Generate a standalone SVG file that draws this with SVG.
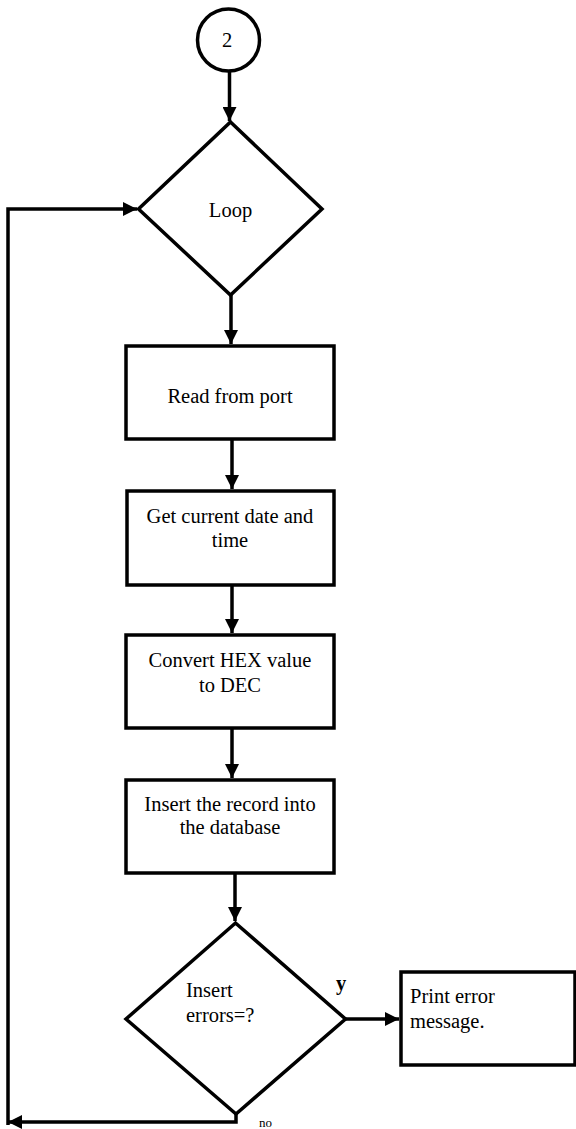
<svg xmlns="http://www.w3.org/2000/svg" width="576" height="1129" viewBox="0 0 576 1129">
<style>
.shape{fill:#fff;stroke:#000;stroke-width:3.5}
.conn{fill:none;stroke:#000;stroke-width:3.5}
text{font-family:"Liberation Serif","Times New Roman",serif;font-size:20.5px;fill:#000}
.c{text-anchor:middle}
</style>
<defs>
<marker id="ah" viewBox="0 0 10 10" refX="10" refY="5" markerWidth="15" markerHeight="14" markerUnits="userSpaceOnUse" orient="auto">
<path d="M0,0 L10,5 L0,10 z" fill="#000"/>
</marker>
</defs>
<rect width="576" height="1129" fill="#fff"/>
<g id="connectors">
<path class="conn" d="M229.5,71 V121" marker-end="url(#ah)"/>
<path class="conn" d="M231,295 V344" marker-end="url(#ah)"/>
<path class="conn" d="M232,439 V489" marker-end="url(#ah)"/>
<path class="conn" d="M232,586 V633" marker-end="url(#ah)"/>
<path class="conn" d="M232,728 V778" marker-end="url(#ah)"/>
<path class="conn" d="M235,873 V921" marker-end="url(#ah)"/>
<path class="conn" d="M346,1019 H399" marker-end="url(#ah)"/>
<path class="conn" d="M236,1113 V1122 H8" marker-end="url(#ah)"/>
<path class="conn" d="M8,1125 V209 H137" marker-end="url(#ah)"/>
</g>
<g id="start">
<circle class="shape" cx="228.5" cy="40" r="31"/>
<text x="222" y="47">2</text>
</g>
<g id="loop">
<polygon class="shape" points="230.5,122 322,209 230.5,295 138.5,209"/>
<text class="c" x="230.5" y="217">Loop</text>
</g>
<g id="read">
<rect class="shape" x="126" y="346" width="208" height="93"/>
<text class="c" x="230" y="403">Read from port</text>
</g>
<g id="datetime">
<rect class="shape" x="127" y="491" width="207" height="94"/>
<text class="c" x="230" y="523">Get current date and</text>
<text class="c" x="230" y="547">time</text>
</g>
<g id="convert">
<rect class="shape" x="126" y="635" width="208" height="93"/>
<text class="c" x="230" y="667">Convert HEX value</text>
<text class="c" x="230" y="692">to DEC</text>
</g>
<g id="insert">
<rect class="shape" x="126" y="780" width="208" height="93"/>
<text class="c" x="230" y="811">Insert the record into</text>
<text class="c" x="230" y="834">the database</text>
</g>
<g id="decision">
<polygon class="shape" points="235.5,923 345.5,1019 236,1114 126,1019"/>
<text x="186" y="997">Insert</text>
<text x="186" y="1022">errors=?</text>
</g>
<g id="labels">
<text x="336" y="990" font-weight="bold">y</text>
<text x="259" y="1127" style="font-size:13px">no</text>
</g>
<g id="print">
<rect class="shape" x="401" y="972" width="174" height="93"/>
<text x="410" y="1003">Print error</text>
<text x="410" y="1028">message.</text>
</g>
</svg>
